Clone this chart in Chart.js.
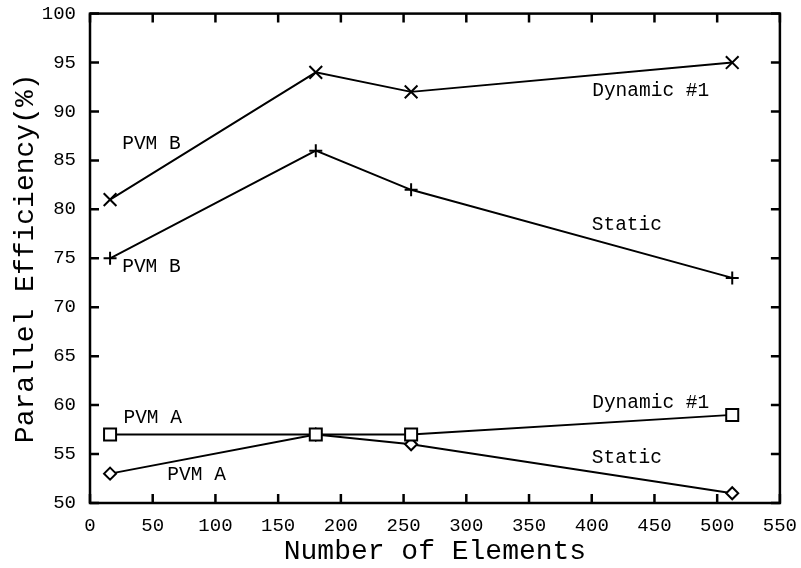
<!DOCTYPE html>
<html lang="en">
<head>
    <meta charset="UTF-8">
    <title>Parallel Efficiency vs Number of Elements</title>
    <script src="https://cdn.jsdelivr.net/npm/chart.js"></script>
    <style>
        body {
            margin: 0;
            background-color: #ffffff;
        }
        #wrap {
            width: 801px;
            height: 568px;
        }
    </style>
</head>
<body>
    <div id="wrap"><canvas id="effChart"></canvas></div>

    <script>
        // values
        const elements = [16, 180, 256, 512];
        const pvmBDynamic = [81, 94, 92, 95];
        const pvmBStatic = [75, 86, 82, 73];
        const pvmADynamic = [57, 57, 57, 59];
        const pvmAStatic = [53, 57, 56, 51];

        const xTicks = [0, 50, 100, 150, 200, 250, 300, 350, 400, 450, 500, 550];
        const yTicks = [50, 55, 60, 65, 70, 75, 80, 85, 90, 95, 100];

        // curve labels, in data coordinates
        const labelText = ['PVM B', 'Dynamic #1', 'Static', 'PVM B', 'PVM A', 'Dynamic #1', 'Static', 'PVM A'];
        const labelX = [49, 447, 428, 49, 50, 447, 428, 85];
        const labelY = [86.7, 92.1, 78.4, 74.1, 58.7, 60.2, 54.6, 52.9];

        const monoFont = '"Liberation Mono", "DejaVu Sans Mono", monospace';

        function toPoints(ys) {
            return elements.map((x, i) => ({ x: x, y: ys[i] }));
        }

        // box with inward ticks on all four sides, plus curve labels
        const framePlugin = {
            id: 'frame',
            afterDraw(chart) {
                const ctx = chart.ctx;
                const area = chart.chartArea;
                const xs = chart.scales.x;
                const ys = chart.scales.y;
                const tl = 9;

                ctx.save();
                ctx.strokeStyle = '#000';
                ctx.lineWidth = 2.5;
                ctx.strokeRect(area.left, area.top, area.right - area.left, area.bottom - area.top);

                ctx.beginPath();
                xTicks.forEach(v => {
                    const px = xs.getPixelForValue(v);
                    ctx.moveTo(px, area.bottom);
                    ctx.lineTo(px, area.bottom - tl);
                    ctx.moveTo(px, area.top);
                    ctx.lineTo(px, area.top + tl);
                });
                yTicks.forEach(v => {
                    const py = ys.getPixelForValue(v);
                    ctx.moveTo(area.left, py);
                    ctx.lineTo(area.left + tl, py);
                    ctx.moveTo(area.right, py);
                    ctx.lineTo(area.right - tl, py);
                });
                ctx.stroke();

                ctx.fillStyle = '#000';
                ctx.font = '19.5px ' + monoFont;
                ctx.textAlign = 'center';
                ctx.textBaseline = 'middle';
                labelText.forEach((t, i) => {
                    ctx.fillText(t, xs.getPixelForValue(labelX[i]), ys.getPixelForValue(labelY[i]));
                });
                ctx.restore();
            }
        };

        const ctx = document.getElementById('effChart').getContext('2d');
        new Chart(ctx, {
            type: 'scatter',
            data: {
                datasets: [
                    {
                        label: 'PVM B Dynamic #1',
                        data: toPoints(pvmBDynamic),
                        pointStyle: 'crossRot',
                        pointRadius: 9
                    },
                    {
                        label: 'PVM B Static',
                        data: toPoints(pvmBStatic),
                        pointStyle: 'cross',
                        pointRadius: 6.5
                    },
                    {
                        label: 'PVM A Dynamic #1',
                        data: toPoints(pvmADynamic),
                        pointStyle: 'rect',
                        pointRadius: 8.5
                    },
                    {
                        label: 'PVM A Static',
                        data: toPoints(pvmAStatic),
                        pointStyle: 'rectRot',
                        pointRadius: 6
                    }
                ].map(d => Object.assign(d, {
                    showLine: true,
                    borderColor: '#000',
                    backgroundColor: '#fff',
                    borderWidth: 1.9,
                    pointBorderWidth: 2,
                    pointHoverRadius: d.pointRadius
                }))
            },
            options: {
                responsive: true,
                maintainAspectRatio: false,
                animation: false,
                layout: {
                    padding: { top: 0, right: 15, left: 0, bottom: 0 }
                },
                plugins: {
                    legend: { display: false },
                    tooltip: { enabled: false }
                },
                scales: {
                    x: {
                        type: 'linear',
                        min: 0,
                        max: 550,
                        afterBuildTicks: axis => { axis.ticks = xTicks.map(v => ({ value: v })); },
                        grid: { display: false },
                        border: { display: false },
                        ticks: {
                            color: '#000',
                            padding: 4,
                            maxRotation: 0,
                            font: { family: monoFont, size: 19 }
                        },
                        title: {
                            display: true,
                            text: 'Number of Elements',
                            color: '#000',
                            padding: { top: 0, bottom: 0 },
                            font: { family: monoFont, size: 28 }
                        },
                        afterFit: axis => { axis.height = 65; }
                    },
                    y: {
                        min: 50,
                        max: 100,
                        afterBuildTicks: axis => { axis.ticks = yTicks.map(v => ({ value: v })); },
                        grid: { display: false },
                        border: { display: false },
                        ticks: {
                            color: '#000',
                            padding: 6,
                            font: { family: monoFont, size: 19, lineHeight: 0.8 }
                        },
                        title: {
                            display: true,
                            text: 'Parallel Efficiency(%)',
                            color: '#000',
                            padding: { top: 9, bottom: 0 },
                            font: { family: monoFont, size: 28 }
                        },
                        afterFit: axis => { axis.width = 90; }
                    }
                }
            },
            plugins: [framePlugin]
        });
    </script>
</body>
</html>
